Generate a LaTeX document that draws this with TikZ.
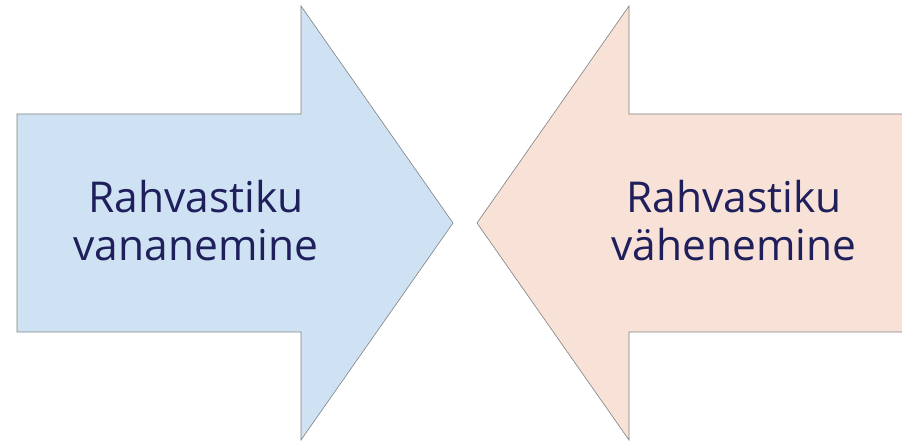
\documentclass[tikz,border=0pt]{standalone}
\usepackage{fontspec}
\setmainfont{Open Sans}
\definecolor{agingblue}{HTML}{CFE2F3}
\definecolor{declinepeach}{HTML}{F8E1D6}
\definecolor{labelnavy}{HTML}{1F1F5C}
\tikzset{
  bigarrow/.style={draw=gray,line width=0.6pt,line join=miter},
  arrowtext/.style={anchor=base,inner sep=0pt,text=labelnavy,
    font=\fontsize{42.5}{48}\selectfont}
}
\begin{document}
\begin{tikzpicture}[x=1pt,y=-1pt]

      \useasboundingbox (0,0) rectangle (902,443);
      \clip (0,0) rectangle (902,443);

      % left arrow, pointing right
      \path[bigarrow,fill=agingblue] (17,114) -- (301,114) -- (301,6) -- (453,223)
        -- (301,440) -- (301,332) -- (17,332) -- cycle;

      % right arrow, pointing left
      \path[bigarrow,fill=declinepeach] (906,114) -- (629,114) -- (629,6) -- (477,223)
        -- (629,440) -- (629,332) -- (906,332) -- cycle;

      \begin{scope}[every node/.style={arrowtext}]
        \node (ageing1)  at (196,213) {Rahvastiku};
        \node (ageing2)  at (196,261) {vananemine};
        \node (decline1) at (734,213) {Rahvastiku};
        \node (decline2) at (734,261) {vähenemine};
      \end{scope}

    \end{tikzpicture}
\end{document}
